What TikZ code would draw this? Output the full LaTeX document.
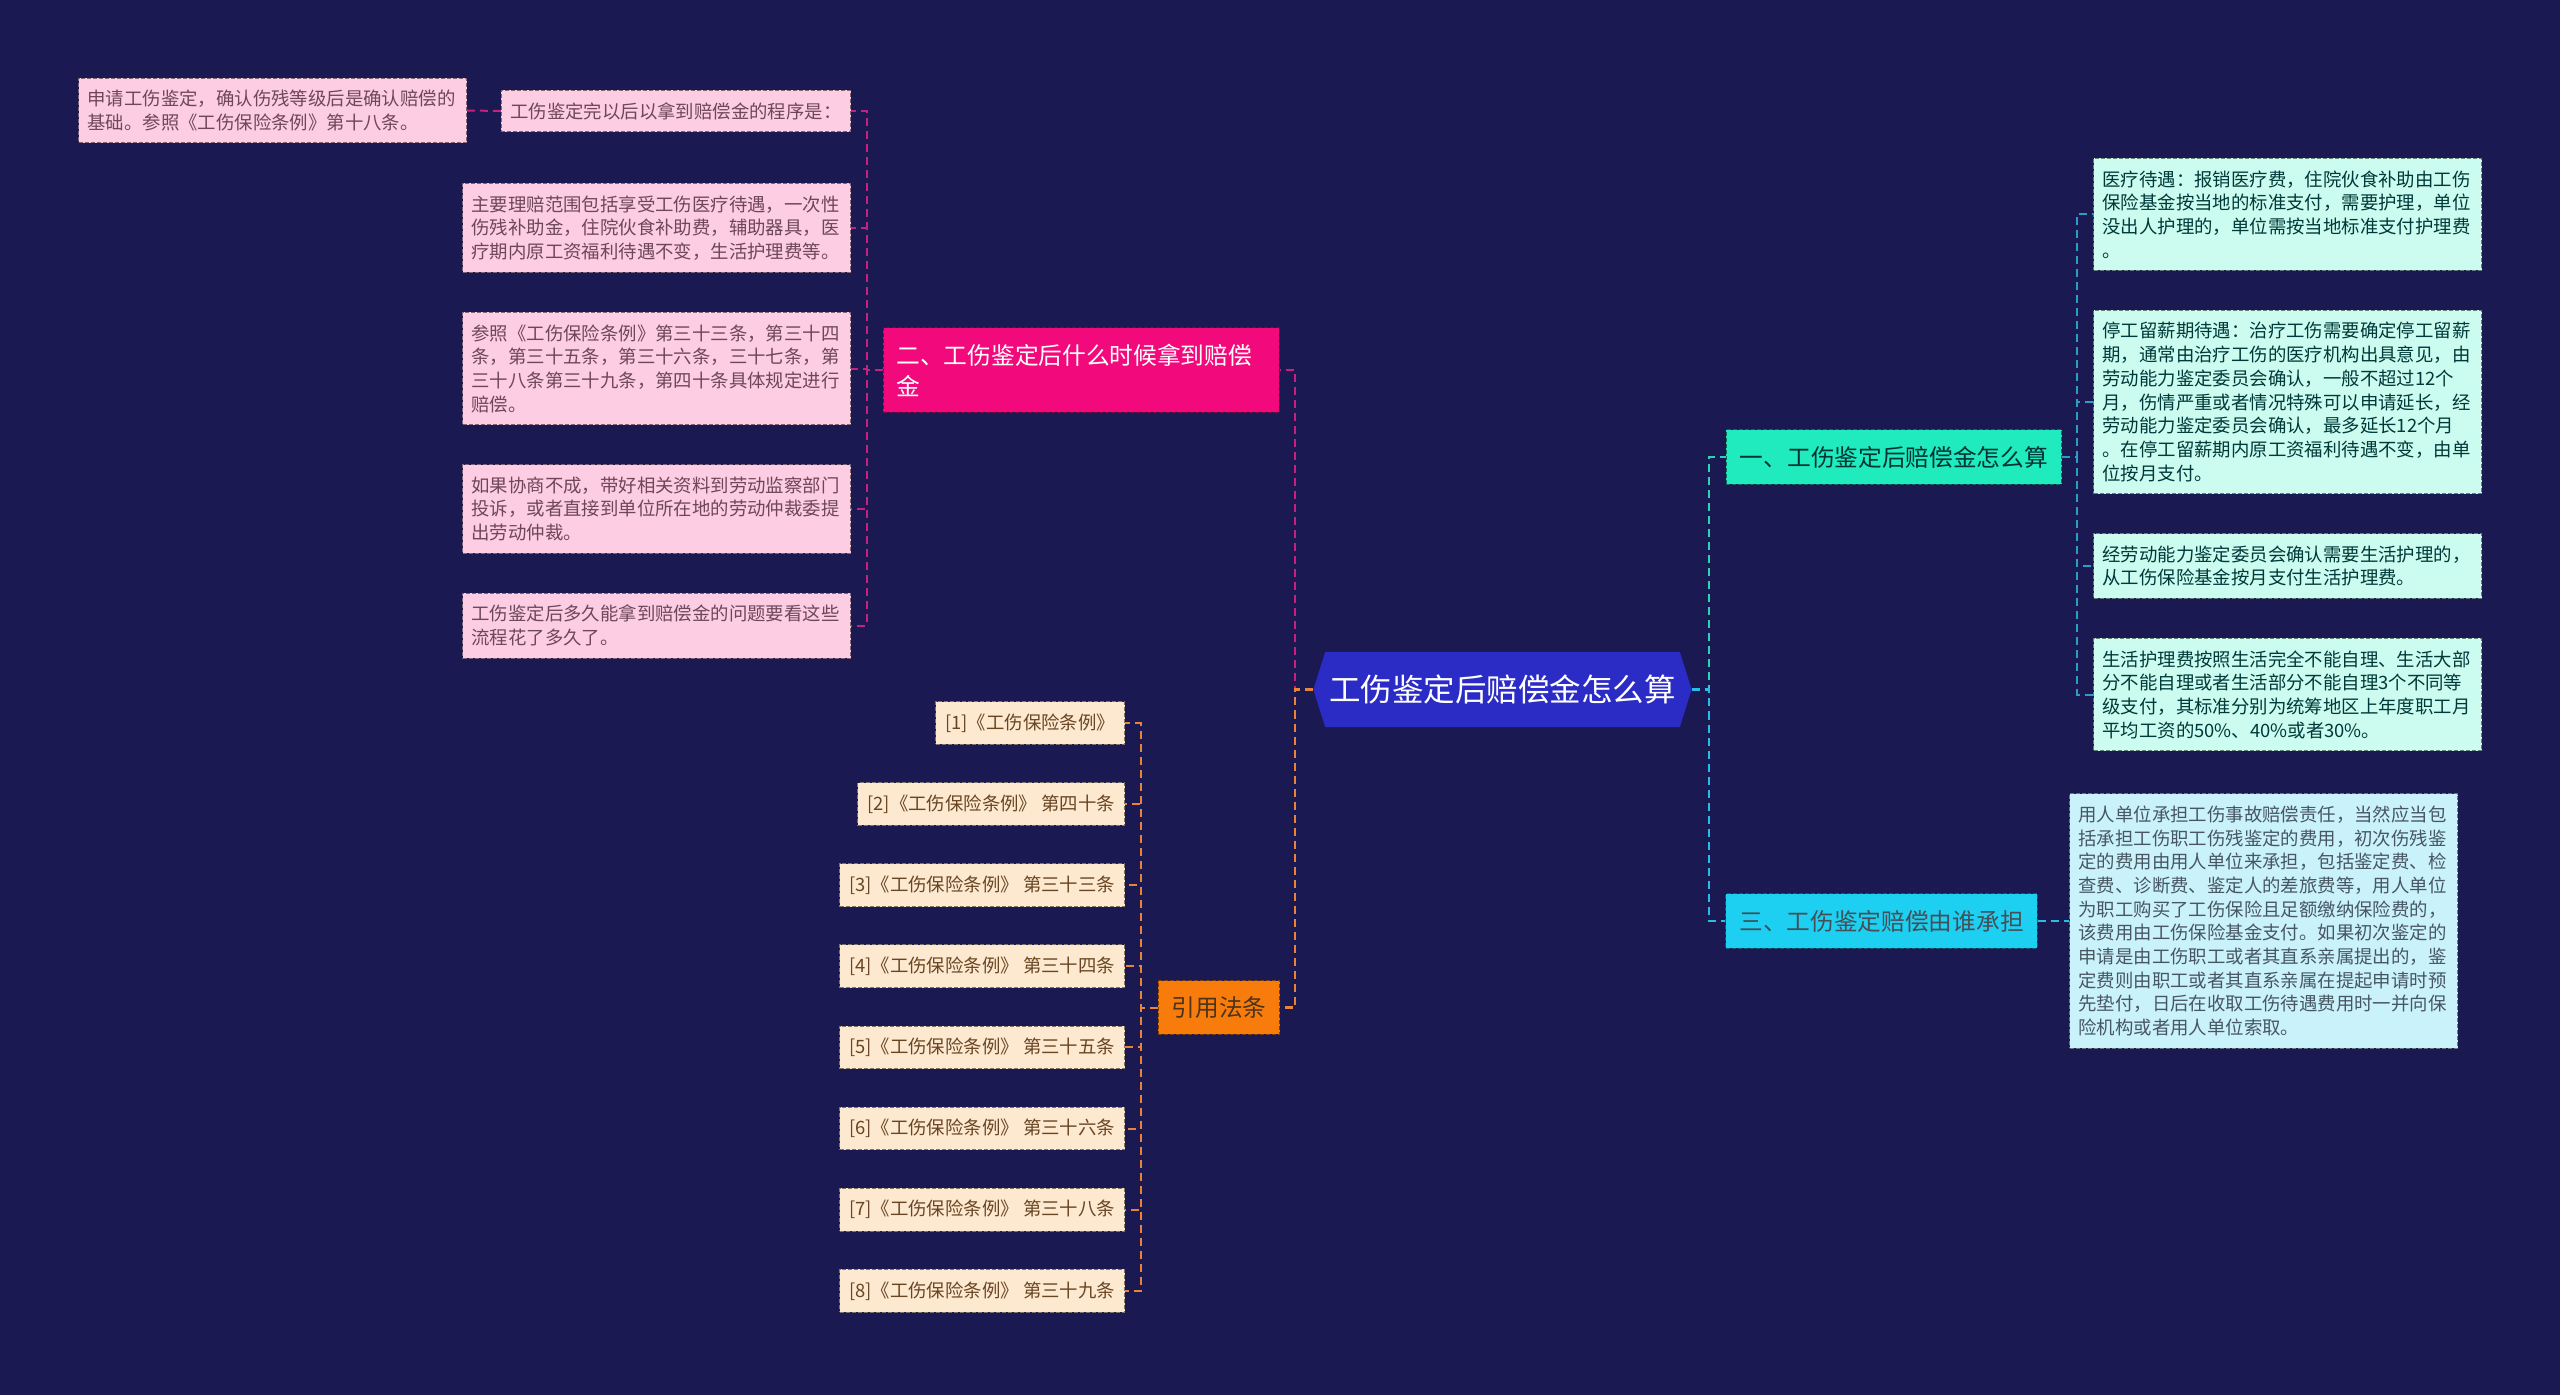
\documentclass[tikz,border=0pt]{standalone}
\usepackage{fontspec}
\setmainfont{Noto Sans CJK SC}
\usetikzlibrary{positioning, shapes.symbols}

\definecolor{bgnavy}{HTML}{1B1952}
\definecolor{hubblue}{HTML}{2B2BC6}
\definecolor{tealbr}{HTML}{1FEBBE}
\definecolor{cyanbr}{HTML}{1DD0F2}
\definecolor{pinkbr}{HTML}{F20A7C}
\definecolor{orangebr}{HTML}{F87C0C}
\definecolor{mintleaf}{HTML}{CBFCEF}
\definecolor{cyanleaf}{HTML}{CAF2FB}
\definecolor{pinkleaf}{HTML}{FDCDE3}
\definecolor{peachleaf}{HTML}{FDE8D0}
\definecolor{tealline}{HTML}{2ED3B4}
\definecolor{cyanline}{HTML}{27BDE6}
\definecolor{blueline}{HTML}{2A9FC4}
\definecolor{pinkline}{HTML}{C8207F}
\definecolor{orangeline}{HTML}{E8843A}

\newcommand\leafsize{\fontsize{9.2pt}{11.85pt}\selectfont}
\newcommand\branchsize{\fontsize{11.85pt}{15.5pt}\selectfont}
\newcommand\hubsize{\fontsize{15.75pt}{18pt}\selectfont}

\begin{document}
\begin{tikzpicture}[x=0.5pt, y=-0.5pt, node distance=19.5pt,
  every node/.style={font=\leafsize},
  hub/.style={signal, signal to=west and east, signal pointer angle=145,
    fill=hubblue, text=white, font=\hubsize, inner xsep=2pt, inner ysep=11.5pt},
  branch/.style={rectangle, draw, dash pattern=on 2pt off 1pt, line width=0.5pt,
    align=left, font=\branchsize, inner xsep=6.75pt, inner ysep=8pt},
  card/.style={rectangle, draw, dash pattern=on 2pt off 1pt, line width=0.5pt,
    align=left, inner xsep=4.5pt, inner ysep=6pt},
  leaf/.style={card, text width=185pt},
  mint/.style={leaf, fill=mintleaf, draw=mintleaf!50!black, text=teal!45!black},
  sky/.style={leaf, fill=cyanleaf, draw=cyanleaf!50!black, text=cyan!30!black},
  rose/.style={leaf, fill=pinkleaf, draw=pinkleaf!50!black, text=magenta!35!black},
  refbox/.style={card, inner xsep=4.75pt, fill=peachleaf, draw=peachleaf!50!black, text=brown!55!black},
  link/.style={dash pattern=on 4pt off 2.5pt, line width=1.2pt},
  sublink/.style={dash pattern=on 4pt off 2.5pt, line width=1pt}]

\fill[bgnavy] (0,0) rectangle (2560,1395);
\useasboundingbox (0,0) rectangle (2560,1395);

% centre and main branches
\node[hub] (hub) at (1502.5,689.5) {工伤鉴定后赔偿金怎么算};
\node[branch, fill=tealbr, draw=tealbr!45!black, text=teal!40!black] (b1) at (1894,457) {一、工伤鉴定后赔偿金怎么算};
\node[branch, fill=cyanbr, draw=cyanbr!45!black, text=cyan!25!black] (b3) at (1881.5,921) {三、工伤鉴定赔偿由谁承担};
\node[branch, fill=pinkbr, draw=pinkbr!50!black, text=white, text width=184.5pt] (b2) at (1081,370) {二、工伤鉴定后什么时候拿到赔偿\\金};
\node[branch, fill=orangebr, draw=orangebr!50!black, text=brown!40!black] (b4) at (1219,1007.5) {引用法条};

% right side leaves
\node[mint, anchor=north west] (l1a) at (2093,158) {医疗待遇：报销医疗费，住院伙食补助由工伤\\保险基金按当地的标准支付，需要护理，单位\\没出人护理的，单位需按当地标准支付护理费\\。};
\node[mint, below=of l1a] (l1b) {停工留薪期待遇：治疗工伤需要确定停工留薪\\期，通常由治疗工伤的医疗机构出具意见，由\\劳动能力鉴定委员会确认，一般不超过12个\\月，伤情严重或者情况特殊可以申请延长，经\\劳动能力鉴定委员会确认，最多延长12个月\\。在停工留薪期内原工资福利待遇不变，由单\\位按月支付。};
\node[mint, below=of l1b] (l1c) {经劳动能力鉴定委员会确认需要生活护理的，\\从工伤保险基金按月支付生活护理费。};
\node[mint, below=of l1c] (l1d) {生活护理费按照生活完全不能自理、生活大部\\分不能自理或者生活部分不能自理3个不同等\\级支付，其标准分别为统筹地区上年度职工月\\平均工资的50\%、40\%或者30\%。};
\node[sky, anchor=west] (l3) at (2069,921) {用人单位承担工伤事故赔偿责任，当然应当包\\括承担工伤职工伤残鉴定的费用，初次伤残鉴\\定的费用由用人单位来承担，包括鉴定费、检\\查费、诊断费、鉴定人的差旅费等，用人单位\\为职工购买了工伤保险且足额缴纳保险费的，\\该费用由工伤保险基金支付。如果初次鉴定的\\申请是由工伤职工或者其直系亲属提出的，鉴\\定费则由职工或者其直系亲属在提起申请时预\\先垫付，日后在收取工伤待遇费用时一并向保\\险机构或者用人单位索取。};

% left side leaves
\node[rose, anchor=west] (p0) at (78,110.5) {申请工伤鉴定，确认伤残等级后是确认赔偿的\\基础。参照《工伤保险条例》第十八条。};
\node[card, fill=pinkleaf, draw=pinkleaf!50!black, text=magenta!35!black, anchor=east] (p1) at (851,111) {工伤鉴定完以后以拿到赔偿金的程序是：};
\node[rose, anchor=north east] (p2) at (851,183) {主要理赔范围包括享受工伤医疗待遇，一次性\\伤残补助金，住院伙食补助费，辅助器具，医\\疗期内原工资福利待遇不变，生活护理费等。};
\node[rose, below=of p2] (p3) {参照《工伤保险条例》第三十三条，第三十四\\条，第三十五条，第三十六条，三十七条，第\\三十八条第三十九条，第四十条具体规定进行\\赔偿。};
\node[rose, below=of p3] (p4) {如果协商不成，带好相关资料到劳动监察部门\\投诉，或者直接到单位所在地的劳动仲裁委提\\出劳动仲裁。};
\node[rose, below=of p4] (p5) {工伤鉴定后多久能拿到赔偿金的问题要看这些\\流程花了多久了。};

% cited articles
\node[refbox, anchor=east] (r1) at (1125,723) {[1]《工伤保险条例》};
\node[refbox, below=18.7pt of r1.south east, anchor=north east] (r2) {[2]《工伤保险条例》 第四十条};
\node[refbox, below=18.7pt of r2.south east, anchor=north east] (r3) {[3]《工伤保险条例》 第三十三条};
\node[refbox, below=18.7pt of r3.south east, anchor=north east] (r4) {[4]《工伤保险条例》 第三十四条};
\node[refbox, below=18.7pt of r4.south east, anchor=north east] (r5) {[5]《工伤保险条例》 第三十五条};
\node[refbox, below=18.7pt of r5.south east, anchor=north east] (r6) {[6]《工伤保险条例》 第三十六条};
\node[refbox, below=18.7pt of r6.south east, anchor=north east] (r7) {[7]《工伤保险条例》 第三十八条};
\node[refbox, below=18.7pt of r7.south east, anchor=north east] (r8) {[8]《工伤保险条例》 第三十九条};

% connectors
\draw[link, tealline] (hub.east) -- ++(17,0) |- (b1.west);
\draw[link, cyanline] (hub.east) -- ++(17,0) |- (b3.west);
\draw[link, pinkline] (hub.west) -- ++(-18,0) |- (b2.east);
\draw[link, orangeline] (hub.west) -- ++(-18,0) |- (b4.east);

\draw[sublink, blueline] (b1.east) -- ++(15,0) |- (l1a.west);
\draw[sublink, blueline] (b1.east) -- ++(15,0) |- (l1b.west);
\draw[sublink, blueline] (b1.east) -- ++(15,0) |- (l1c.west);
\draw[sublink, blueline] (b1.east) -- ++(15,0) |- (l1d.west);
\draw[sublink, cyanline] (b3.east) -- ++(16,0) |- (l3.west);

\draw[sublink, pinkline] (b2.west) -- ++(-16,0) |- (p1.east);
\draw[sublink, pinkline] (b2.west) -- ++(-16,0) |- (p2.east);
\draw[sublink, pinkline] (b2.west) -- ++(-16,0) |- (p3.east);
\draw[sublink, pinkline] (b2.west) -- ++(-16,0) |- (p4.east);
\draw[sublink, pinkline] (b2.west) -- ++(-16,0) |- (p5.east);
\draw[sublink, pinkline] (p1.west) -- (p0.east);

\draw[sublink, orangeline] (b4.west) -- ++(-17,0) |- (r1.east);
\draw[sublink, orangeline] (b4.west) -- ++(-17,0) |- (r2.east);
\draw[sublink, orangeline] (b4.west) -- ++(-17,0) |- (r3.east);
\draw[sublink, orangeline] (b4.west) -- ++(-17,0) |- (r4.east);
\draw[sublink, orangeline] (b4.west) -- ++(-17,0) |- (r5.east);
\draw[sublink, orangeline] (b4.west) -- ++(-17,0) |- (r6.east);
\draw[sublink, orangeline] (b4.west) -- ++(-17,0) |- (r7.east);
\draw[sublink, orangeline] (b4.west) -- ++(-17,0) |- (r8.east);

\end{tikzpicture}
\end{document}
